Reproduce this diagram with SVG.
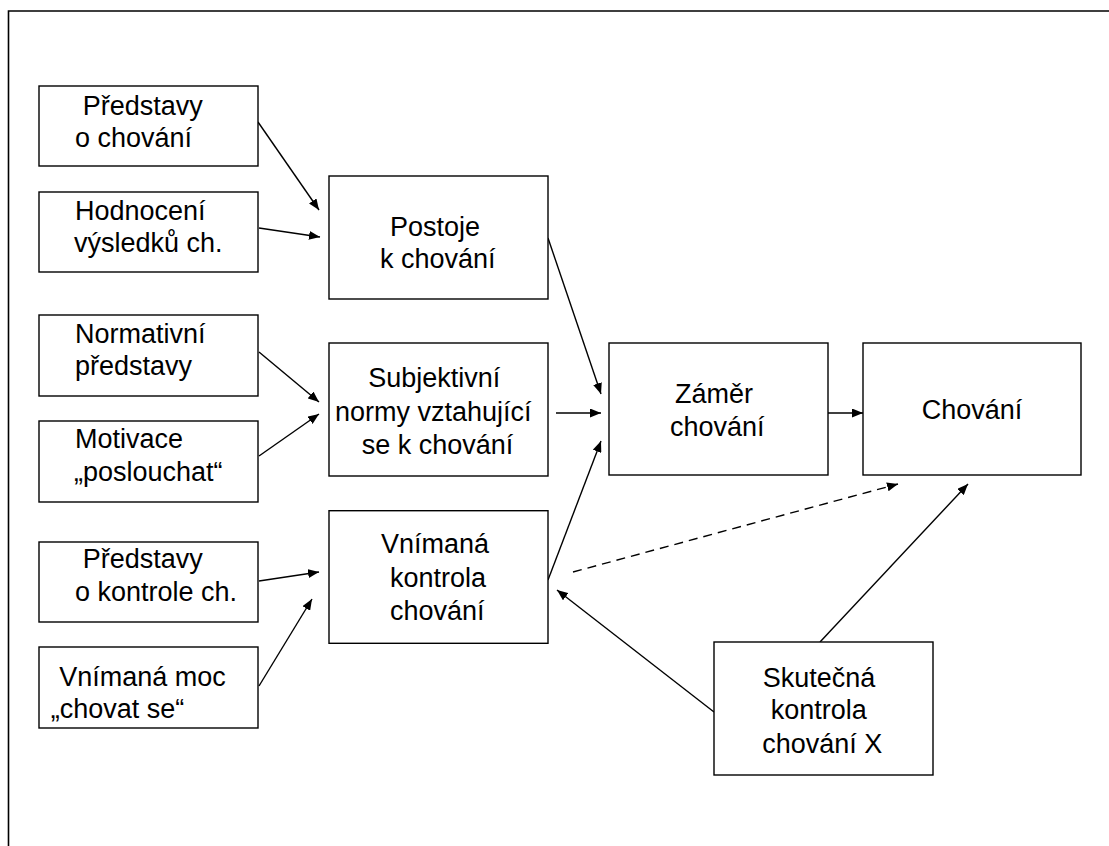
<svg xmlns="http://www.w3.org/2000/svg" width="1109" height="846" viewBox="0 0 1109 846">
<style>
.box{fill:#fff;stroke:#000;stroke-width:1.4}
.t{font-family:"Liberation Sans",Arial,Helvetica,sans-serif;font-size:27px;fill:#000}
.c{stroke:#000;stroke-width:1.4;fill:none;marker-end:url(#ah)}
.d{stroke-dasharray:9 6}
.frame{stroke:#000;stroke-width:1.6;fill:none}
</style>
<defs>
<marker id="ah" markerUnits="userSpaceOnUse" markerWidth="11" markerHeight="9" viewBox="0 0 11 9" refX="11" refY="4.5" orient="auto">
<path d="M0,0 L11,4.5 L0,9 z" fill="#000"/>
</marker>
</defs>
<rect width="1109" height="846" fill="#fff"/>
<path class="frame" d="M8.5,846 L8.5,11 L1109,11"/>

<g id="connectors">
<line class="c" x1="258" y1="122" x2="319" y2="210"/>
<line class="c" x1="259" y1="228" x2="320" y2="237"/>
<line class="c" x1="259" y1="352" x2="319" y2="402"/>
<line class="c" x1="259" y1="456" x2="319" y2="414"/>
<line class="c" x1="259" y1="581" x2="319" y2="572"/>
<line class="c" x1="259" y1="686" x2="312" y2="599"/>
<line class="c" x1="548" y1="238" x2="601" y2="394"/>
<line class="c" x1="556" y1="413" x2="601" y2="413"/>
<line class="c" x1="548" y1="580" x2="601" y2="441"/>
<line class="c" x1="828" y1="413" x2="863" y2="413"/>
<line class="c d" x1="573" y1="572" x2="898" y2="484"/>
<line class="c" x1="714" y1="712" x2="557" y2="590"/>
<line class="c" x1="820" y1="642" x2="968" y2="484"/>
</g>

<g id="n-predstavy-chovani">
<rect class="box" x="39" y="86" width="219" height="80"/>
<text class="t" x="82.7" y="115">Představy</text>
<text class="t" x="75" y="147">o chování</text>
</g>
<g id="n-hodnoceni">
<rect class="box" x="39" y="192" width="219" height="80"/>
<text class="t" x="75" y="220">Hodnocení</text>
<text class="t" x="74" y="252">výsledků ch.</text>
</g>
<g id="n-normativni">
<rect class="box" x="39" y="315" width="219" height="81"/>
<text class="t" x="75" y="343">Normativní</text>
<text class="t" x="75" y="375">představy</text>
</g>
<g id="n-motivace">
<rect class="box" x="39" y="421" width="219" height="81"/>
<text class="t" x="75" y="448">Motivace</text>
<text class="t" x="74" y="481">„poslouchat“</text>
</g>
<g id="n-predstavy-kontrola">
<rect class="box" x="39" y="542" width="219" height="80"/>
<text class="t" x="82.7" y="568">Představy</text>
<text class="t" x="75" y="601">o kontrole ch.</text>
</g>
<g id="n-vnimana-moc">
<rect class="box" x="39" y="647" width="219" height="81"/>
<text class="t" x="59.3" y="686">Vnímaná moc</text>
<text class="t" x="50.7" y="718">„chovat se“</text>
</g>
<g id="n-postoje">
<rect class="box" x="329" y="176" width="219" height="123"/>
<text class="t" x="390" y="236">Postoje</text>
<text class="t" x="380" y="268">k chování</text>
</g>
<g id="n-subjektivni">
<rect class="box" x="329" y="343" width="219" height="133"/>
<text class="t" x="368.3" y="387">Subjektivní</text>
<text class="t" x="335" y="420.7">normy vztahující</text>
<text class="t" x="361.7" y="454">se k chování</text>
</g>
<g id="n-vnimana-kontrola">
<rect class="box" x="329" y="510.7" width="219" height="132.6"/>
<text class="t" x="381" y="552.7">Vnímaná</text>
<text class="t" x="390" y="586.7">kontrola</text>
<text class="t" x="390" y="620">chování</text>
</g>
<g id="n-zamer">
<rect class="box" x="609" y="343" width="219" height="132"/>
<text class="t" x="675" y="403">Záměr</text>
<text class="t" x="670" y="436">chování</text>
</g>
<g id="n-chovani">
<rect class="box" x="863" y="343" width="218" height="132"/>
<text class="t" x="921.7" y="419.3">Chování</text>
</g>
<g id="n-skutecna">
<rect class="box" x="714" y="642" width="219" height="133"/>
<text class="t" x="762.7" y="686.7">Skutečná</text>
<text class="t" x="770.7" y="719">kontrola</text>
<text class="t" x="762.3" y="753.3">chování X</text>
</g>
</svg>
